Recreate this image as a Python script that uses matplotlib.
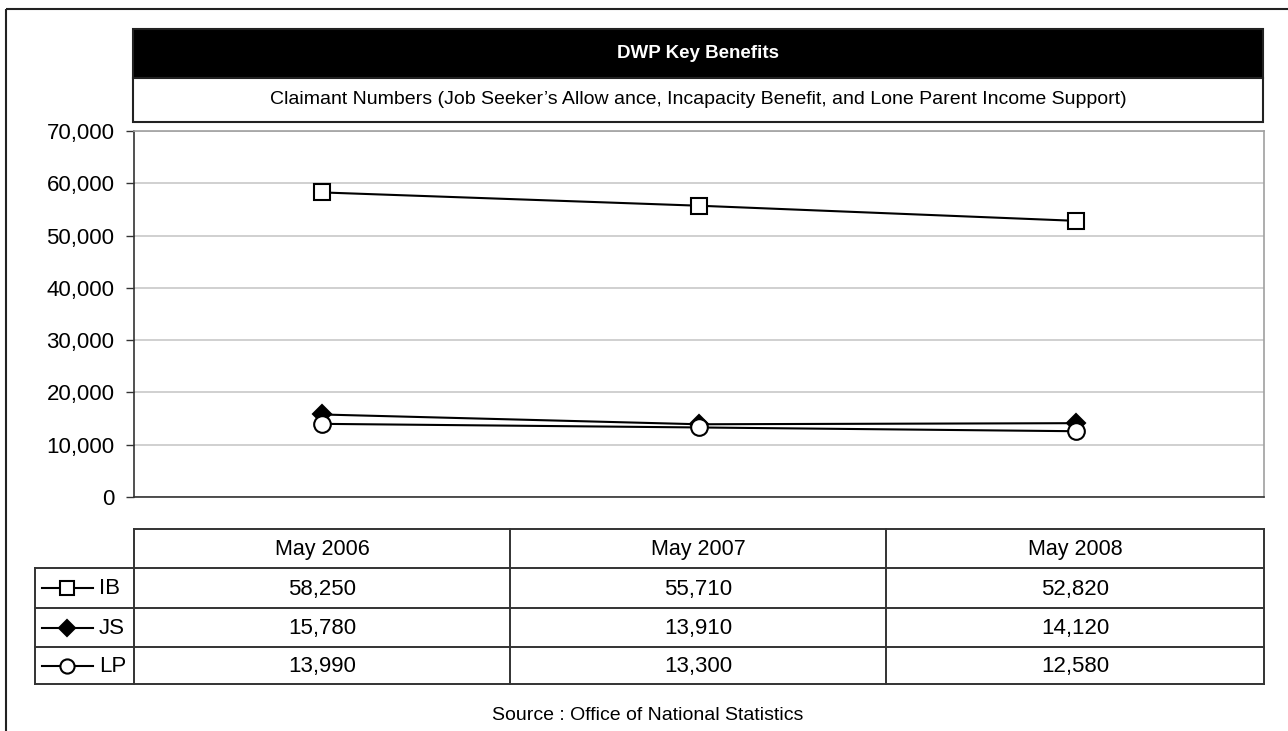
import matplotlib
matplotlib.use("Agg")
import matplotlib.pyplot as plt
from matplotlib.ticker import FuncFormatter, MultipleLocator
from matplotlib.lines import Line2D
from matplotlib.patches import Rectangle

plt.rcParams['font.family'] = ['Liberation Sans', 'DejaVu Sans']

# ---- data ----
periods = ["May 2006", "May 2007", "May 2008"]
series_names = ["IB", "JS", "LP"]
ib_values = [58250, 55710, 52820]
js_values = [15780, 13910, 14120]
lp_values = [13990, 13300, 12580]
title = "DWP Key Benefits"
subtitle = ("Claimant Numbers (Job Seeker\u2019s Allow ance, Incapacity Benefit, "
            "and Lone Parent Income Support)")
source = "Source : Office of National Statistics"

series_values = [ib_values, js_values, lp_values]
styles = [
    dict(marker='s', markersize=12, markerfacecolor='white'),
    dict(marker='D', markersize=9.5, markerfacecolor='black'),
    dict(marker='o', markersize=12, markerfacecolor='white'),
]

W, H = 1288, 731
fig = plt.figure(figsize=(W / 100, H / 100), dpi=100)
fig.patch.set_facecolor('white')

# overlay in pixel coordinates (y downwards)
ov = fig.add_axes([0, 0, 1, 1])
ov.set_xlim(0, W)
ov.set_ylim(H, 0)
ov.axis('off')

# outer frame
ov.add_patch(Rectangle((6, 9), W + 10, H + 10, fill=False, lw=1.5, ec='#222222'))

# title bar and subtitle box
L, R = 133, 1263
ov.add_patch(Rectangle((L, 29), R - L, 49, fc='black', ec='#222222', lw=1.5))
ov.add_patch(Rectangle((L, 78), R - L, 44, fc='white', ec='#222222', lw=1.5))
ov.text((L + R) / 2, 53.5, title, color='white', fontsize=13.5, fontweight='bold',
        ha='center', va='center')
ov.text((L + R) / 2, 100, subtitle, color='black', fontsize=14,
        ha='center', va='center')

# ---- main plot ----
px_left, px_right, px_top, px_bot = 134, 1264, 131, 497
ax = fig.add_axes([px_left / W, 1 - px_bot / H,
                   (px_right - px_left) / W, (px_bot - px_top) / H])
x = list(range(len(periods)))
for vals, st in zip(series_values, styles):
    ax.plot(x, vals, color='black', lw=1.5, markeredgecolor='black',
            markeredgewidth=1.5, zorder=3, clip_on=False, **st)
ax.set_xlim(-0.5, len(periods) - 0.5)
ax.set_ylim(0, 70000)
ax.yaxis.set_major_locator(MultipleLocator(10000))
ax.yaxis.set_major_formatter(FuncFormatter(lambda v, p: f"{int(v):,}"))
ax.set_xticks([])
ax.grid(axis='y', color='#c8c8c8', lw=1.2)
ax.set_axisbelow(True)
ax.tick_params(axis='y', length=6, width=1, color='#333333', labelsize=16, pad=8)
for side in ('top', 'right'):
    ax.spines[side].set_color('#a0a0a0')
    ax.spines[side].set_linewidth(1.2)
for side in ('left', 'bottom'):
    ax.spines[side].set_color('#333333')
    ax.spines[side].set_linewidth(1.2)

# ---- data table ----
tc = '#333333'
tlw = 1.4
rows_y = [529, 568, 608, 647, 684]
col_x = [134, 510, 886, 1264]
leg_x0 = 35
# horizontal lines
ov.plot([col_x[0], col_x[-1]], [rows_y[0]] * 2, color=tc, lw=tlw)
for yy in rows_y[1:]:
    ov.plot([leg_x0, col_x[-1]], [yy] * 2, color=tc, lw=tlw)
# vertical lines
for xx in col_x:
    ov.plot([xx, xx], [rows_y[0], rows_y[-1]], color=tc, lw=tlw)
ov.plot([leg_x0, leg_x0], [rows_y[1], rows_y[-1]], color=tc, lw=tlw)

centers = [(col_x[i] + col_x[i + 1]) / 2 for i in range(len(periods))]
for cx, lab in zip(centers, periods):
    ov.text(cx, (rows_y[0] + rows_y[1]) / 2 + 1, lab, fontsize=15.5,
            ha='center', va='center')
for r, (name, vals, st) in enumerate(zip(series_names, series_values, styles)):
    cy = (rows_y[r + 1] + rows_y[r + 2]) / 2
    key_style = {**st, 'markersize': st['markersize'] * 0.85}
    ov.add_line(Line2D([42, 67.5, 93], [cy, cy, cy], color='black', lw=1.5,
                       markevery=[1], markeredgecolor='black',
                       markeredgewidth=1.5, **key_style))
    ov.text(99, cy + 1, name, fontsize=16, ha='left', va='center')
    for cx, v in zip(centers, vals):
        ov.text(cx, cy + 1, f"{v:,}", fontsize=16, ha='center', va='center')

ov.text(648, 716, source, fontsize=14, ha='center', va='center')

fig.savefig("out.png", dpi=100, facecolor='white')
